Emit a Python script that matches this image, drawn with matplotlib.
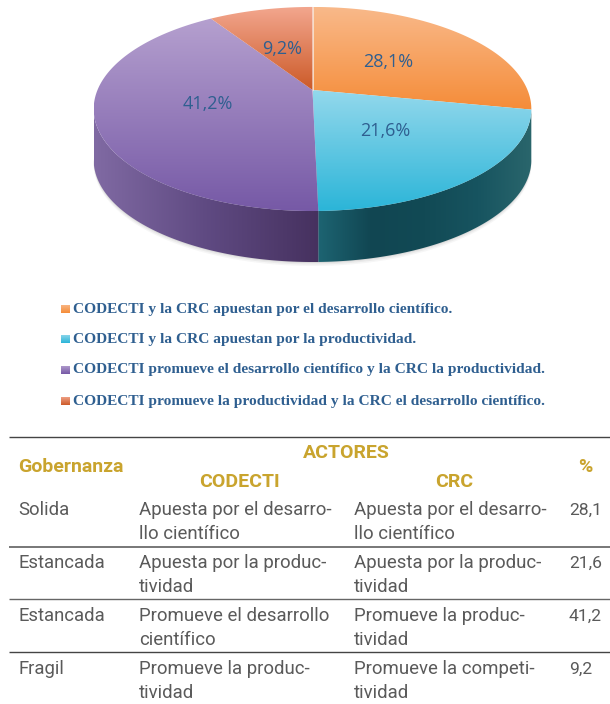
#!/usr/bin/env python3
import matplotlib

matplotlib.use("Agg")
import matplotlib.pyplot as plt
import numpy as np
from matplotlib.colors import LinearSegmentedColormap
from matplotlib.patches import Polygon

shares = [28.1, 21.6, 41.2, 9.2]
share_labels = ["28,1%", "21,6%", "41,2%", "9,2%"]
top_colors = [("#f9b98a", "#f58c38"), ("#93d8ec", "#2bb5d8"), ("#b5a0cf", "#7659a6"), ("#f3a78f", "#cc5a28")]
# side wall colours, left to right
side_colors = [
    ("#b86a2a", "#b86a2a"),
    ("#1d6472", "#114652", "#124a55", "#175460", "#2a666c"),
    ("#806aa3", "#5f4a82", "#46315f"),
    ("#a04a20", "#a04a20"),
]
legend_labels = [
    "CODECTI y la CRC apuestan por el desarrollo científico.",
    "CODECTI y la CRC apuestan por la productividad.",
    "CODECTI promueve el desarrollo científico y la CRC la productividad.",
    "CODECTI promueve la productividad y la CRC el desarrollo científico.",
]
header_actors = "ACTORES"
header_cols = ["Gobernanza", "CODECTI", "CRC", "%"]
gobernanza = ["Solida", "Estancada", "Estancada", "Fragil"]
codecti = [
    "Apuesta por el desarro-\nllo científico",
    "Apuesta por la produc-\ntividad",
    "Promueve el desarrollo\ncientífico",
    "Promueve la produc-\ntividad",
]
crc = [
    "Apuesta por el desarro-\nllo científico",
    "Apuesta por la produc-\ntividad",
    "Promueve la produc-\ntividad",
    "Promueve la competi-\ntividad",
]
pct = ["28,1", "21,6", "41,2", "9,2"]

# pie projection, pixels
CX, CY = 312.5, 90
RX, RY = 215, 98.5
PERSP = 0.186
DEPTH = 51
GOLD = "#c9a42e"
BODY = "#5a5a5a"
BLUE = "#2f5f90"


def project(theta_deg):
    t = np.radians(theta_deg)
    u = np.sin(t)
    v = np.cos(t)
    s = 1 + PERSP * v
    return CX + RX * u / s, CY - RY * v / s


def arc(a0, a1):
    th = np.linspace(a0, a1, max(int(abs(a1 - a0) * 2), 2))
    return np.column_stack(project(th))


def fill_gradient(ax, pts, colors, zorder, vertical=True):
    x0, x1 = pts[:, 0].min(), pts[:, 0].max()
    y0, y1 = pts[:, 1].min(), pts[:, 1].max()
    cmap = LinearSegmentedColormap.from_list("g", colors)
    grad = np.linspace(0, 1, 256)
    grad = grad[:, None] if vertical else grad[None, :]
    im = ax.imshow(grad, cmap=cmap, extent=(x0, x1, y1, y0), aspect="auto", origin="upper", zorder=zorder)
    patch = Polygon(pts, closed=True, transform=ax.transData, fc="none", ec="none")
    ax.add_patch(patch)
    im.set_clip_path(patch)


fig = plt.figure(figsize=(6.1, 7.04), dpi=100)
ax = fig.add_axes([0, 0, 1, 1])

edges = np.concatenate([[0], np.cumsum(shares)]) / sum(shares) * 360

# soft shadow under the body
base = arc(100, 260) + [0, DEPTH]
for grow, alpha in [(4, 0.05), (2.5, 0.07), (1, 0.1)]:
    ax.add_patch(Polygon(base + [0, grow], closed=True, fc="#555555", ec="none", alpha=alpha, zorder=1))

# side wall, only the part facing the viewer
sil0 = np.degrees(np.arccos(-PERSP))
sil1 = 360 - sil0
for i in range(len(shares)):
    a0 = max(edges[i], sil0)
    a1 = min(edges[i + 1], sil1)
    if a1 <= a0 + 1:
        continue
    rim = arc(a0, a1)
    pts = np.vstack([rim, (rim + [0, DEPTH])[::-1]])
    fill_gradient(ax, pts, side_colors[i], 2 + i, vertical=False)

# top faces
for i in range(len(shares)):
    pts = np.vstack([[CX, CY], arc(edges[i], edges[i + 1])])
    fill_gradient(ax, pts, top_colors[i], 10 + i)

ax.plot(*zip((CX, CY), project(0)), color="#f6e6d8", lw=0.6, zorder=20)

label_pos = [(388, 62), (385, 131), (208, 104), (282, 49)]
for (lx, ly), txt in zip(label_pos, share_labels):
    ax.text(lx, ly, txt, ha="center", va="center", fontsize=13, color=BLUE, family="Open Sans", zorder=50)

# legend
legend_y = [309, 339, 370, 401]
for k, (y, txt, cols) in enumerate(zip(legend_y, legend_labels, top_colors)):
    sq = np.array([[61, y - 4.5], [70, y - 4.5], [70, y + 4.5], [61, y + 4.5]])
    fill_gradient(ax, sq, cols, 30 + k)
    ax.text(73, y, txt, ha="left", va="center", fontsize=11.05, color=BLUE, family="Liberation Serif", fontweight="bold", zorder=50)

# table
for y, col, lw in [(437, "#444444", 1.0), (547, "#777777", 1.4), (599, "#666666", 1.0), (652, "#444444", 1.0)]:
    ax.plot([9, 610], [y, y], color=col, lw=lw, zorder=50, solid_capstyle="butt")

ax.text(346, 458, header_actors, ha="center", va="baseline", fontsize=14, color=GOLD, family="Roboto", fontweight="bold")
head_x = [18, 239, 454, 585]
head_y = [472, 487, 487, 472]
head_ha = ["left", "center", "center", "center"]
for x, y, ha, txt in zip(head_x, head_y, head_ha, header_cols):
    ax.text(x, y, txt, ha=ha, va="baseline", fontsize=14, color=GOLD, family="Roboto", fontweight="bold")

row_y = [515, 568, 621, 674]
for y, g, a, b, p in zip(row_y, gobernanza, codecti, crc, pct):
    ax.text(18, y, g, ha="left", va="baseline", fontsize=13.3, color=BODY, family="Roboto")
    ax.text(569, y, p, ha="left", va="baseline", fontsize=12.6, color=BODY, family="Roboto")
    for x, cell in ((139, a), (354, b)):
        for k, line in enumerate(cell.split("\n")):
            ax.text(x, y + k * 24, line, ha="left", va="baseline", fontsize=13.4, color=BODY, family="Roboto")

ax.set_xlim(0, 610)
ax.set_ylim(704, 0)
ax.axis("off")
fig.savefig("out.png", dpi=100, facecolor="white")
